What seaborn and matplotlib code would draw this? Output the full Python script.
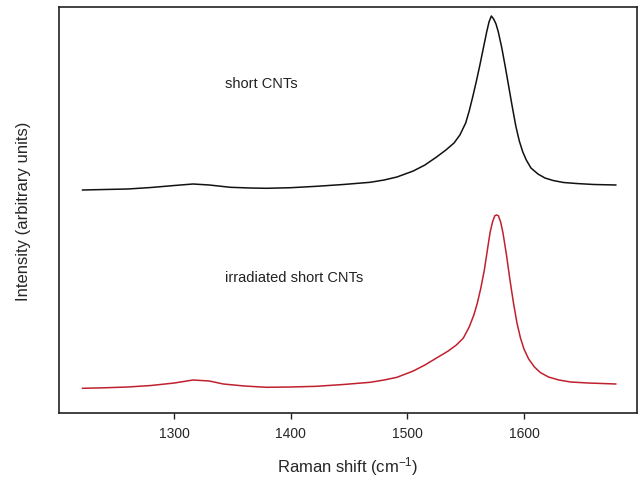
import matplotlib
matplotlib.use("Agg")
import matplotlib.pyplot as plt
import seaborn as sns
import pandas as pd

# Raman shift (cm^-1) and intensity (arbitrary units)
shift_short = [1221, 1240, 1260, 1280, 1300, 1316, 1330, 1348, 1365, 1379, 1400, 1422,
               1445, 1468, 1480, 1491, 1505, 1515, 1525, 1533, 1540, 1545, 1550, 1553,
               1556, 1559, 1562, 1565, 1568, 1570, 1572, 1574, 1576, 1578, 1581, 1584,
               1587, 1590, 1593, 1596, 1599, 1602, 1606, 1612, 1618, 1625, 1634, 1645,
               1660, 1679]
int_short = [223, 223.5, 224, 225.5, 227.5, 229, 228, 225.7, 225, 224.7, 225.3, 226.7,
             228.5, 230.7, 233, 236, 242, 248, 256, 263, 270, 278, 290, 302,
             316, 331, 347, 364, 381, 391, 397, 394, 389, 381, 365, 346,
             326, 306, 287, 272, 261, 253, 245, 239, 235, 232.5, 230.5, 229.5,
             228.5, 228]

shift_irr = [1221, 1240, 1260, 1280, 1300, 1316, 1330, 1342, 1360, 1379, 1400, 1422,
             1445, 1468, 1480, 1491, 1505, 1515, 1525, 1535, 1542, 1548, 1553, 1557,
             1560, 1563, 1566, 1569, 1571, 1573, 1575, 1576.5, 1578, 1580, 1582, 1585,
             1588, 1591, 1594, 1597, 1600, 1604, 1609, 1614, 1621, 1630, 1640, 1655,
             1679]
int_irr = [24.7, 25.2, 26, 27.5, 30, 33, 32, 29, 27, 25.7, 26, 26.7,
           28.5, 30.7, 33, 35.7, 42, 48, 55, 62, 68, 75, 86, 98,
           110, 125, 143, 166, 181, 191, 197.3, 198, 197.3, 191, 180, 158,
           133, 110, 90, 75, 64, 54, 46, 40.5, 36, 33, 31, 30,
           29]

labels = ["short CNTs", "irradiated short CNTs"]
colors = ["#111111", "#c0202e"]

sns.set_style("white")
plt.rcParams["font.family"] = ["Liberation Sans", "DejaVu Sans"]
plt.rcParams["mathtext.fontset"] = "custom"
plt.rcParams["mathtext.rm"] = "Liberation Sans"
plt.rcParams["mathtext.default"] = "regular"

fig = plt.figure(figsize=(6.41, 4.85), dpi=100)
ax = fig.add_axes([59/641, 1 - 414/485, (637-59)/641, (414-8)/485])

df1 = pd.DataFrame({"shift": shift_short, "intensity": int_short})
df2 = pd.DataFrame({"shift": shift_irr, "intensity": int_irr})
sns.lineplot(data=df1, x="shift", y="intensity", ax=ax, color=colors[0], lw=1.1)
sns.lineplot(data=df2, x="shift", y="intensity", ax=ax, color=colors[1], lw=1.1)

ax.set_xlim(1201, 1697)
ax.set_ylim(0, 406)
ax.set_xticks([1300, 1400, 1500, 1600])
ax.set_yticks([])
ax.tick_params(axis="x", direction="out", length=4.5, width=1, color="#222222",
               labelsize=10, pad=5, bottom=True)
for s in ax.spines.values():
    s.set_visible(True)
    s.set_color("#222222")
    s.set_linewidth(1.2)

ax.set_xlabel("Raman shift (cm$^{-1}$)", fontsize=12, labelpad=10)
ax.set_ylabel("Intensity (arbitrary units)", fontsize=12, labelpad=20)

ax.text(0.287, 0.812, labels[0], transform=ax.transAxes, fontsize=10.5,
        ha="left", va="center", color="#222222")
ax.text(0.287, 0.336, labels[1], transform=ax.transAxes, fontsize=10.5,
        ha="left", va="center", color="#222222")

fig.savefig("out.png", dpi=100)
